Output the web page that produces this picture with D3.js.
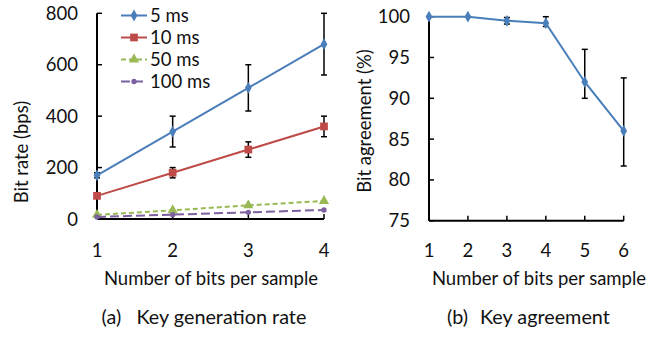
<!DOCTYPE html>
<html><head><meta charset="utf-8">
<script src="https://cdn.jsdelivr.net/npm/d3@7"></script>
<style>body{margin:0;background:#fff}svg{display:block}text{font-family:Lato,"Open Sans",sans-serif;fill:#111}</style>
</head><body><svg id="c" width="659" height="338"></svg>
<script>
// Left chart data
const bitsA = [1, 2, 3, 4];
const ms5 = [170, 340, 510, 680];
const ms5Lo = [160, 280, 420, 560];
const ms5Hi = [180, 400, 600, 800];
const ms10 = [90, 180, 270, 360];
const ms10Lo = [85, 160, 240, 320];
const ms10Hi = [95, 200, 300, 400];
const ms50 = [16, 34, 53, 70];
const ms100 = [8, 17, 26, 35];
const seriesNames = ["5 ms", "10 ms", "50 ms", "100 ms"];
const yTicksA = [0, 200, 400, 600, 800];
// Right chart data
const bitsB = [1, 2, 3, 4, 5, 6];
const agree = [100, 100, 99.5, 99.2, 92, 86];
const agreeLo = [100, 100, 99.1, 98.8, 90, 81.7];
const agreeHi = [100, 100, 99.9, 100, 96, 92.5];
const yTicksB = [75, 80, 85, 90, 95, 100];

const svg = d3.select("#c");
const colors = ["#4a7ebb", "#be4b48", "#98b954", "#7d60a0"];
const fs = 18.5;
const fsCap = 19.8;

function axes(g, x, y, xt, yt, x0, x1, y0, y1) {
  g.append("line").attr("x1", x0).attr("x2", x0).attr("y1", y0).attr("y2", y1).attr("stroke", "#000").attr("stroke-width", 2);
  g.append("line").attr("x1", x0).attr("x2", x1).attr("y1", y0).attr("y2", y0).attr("stroke", "#000").attr("stroke-width", 2);
  yt.forEach(v => {
    g.append("line").attr("x1", x0).attr("x2", x0 + 5).attr("y1", y(v)).attr("y2", y(v)).attr("stroke", "#000").attr("stroke-width", 1.5);
    g.append("text").attr("x", x0 - 19).attr("y", y(v) + 6.5).attr("text-anchor", "end").attr("font-size", fs).text(v);
  });
  xt.forEach(v => {
    g.append("line").attr("x1", x(v)).attr("x2", x(v)).attr("y1", y0).attr("y2", y0 - 5).attr("stroke", "#000").attr("stroke-width", 1.5);
    g.append("text").attr("x", x(v)).attr("y", 256.5).attr("text-anchor", "middle").attr("font-size", fs).text(v);
  });
}

function errbars(g, x, y, xs, lo, hi) {
  xs.forEach((v, i) => {
    if (lo[i] === hi[i]) return;
    g.append("line").attr("x1", x(v)).attr("x2", x(v)).attr("y1", y(lo[i])).attr("y2", y(hi[i])).attr("stroke", "#000").attr("stroke-width", 1.5);
    [lo[i], hi[i]].forEach(e => g.append("line").attr("x1", x(v) - 3).attr("x2", x(v) + 3).attr("y1", y(e)).attr("y2", y(e)).attr("stroke", "#000").attr("stroke-width", 1.5));
  });
}

// ---- Left chart
const xA = d3.scaleLinear().domain([1, 4]).range([97, 324]);
const yA = d3.scaleLinear().domain([0, 800]).range([219, 13.3]);
const gA = svg.append("g");
axes(gA, xA, yA, bitsA, yTicksA, 97, 324, 219, 13.3);

const symbols = [d3.symbolDiamond, d3.symbolSquare, d3.symbolTriangle, d3.symbolCircle];
const sizes = [40, 60, 45, 22];
const dashes = [null, null, "5,3", "9,4"];
const dataA = [ms5, ms10, ms50, ms100];
const line = d3.line();

errbars(gA, xA, yA, bitsA, ms5Lo, ms5Hi);
errbars(gA, xA, yA, bitsA, ms10Lo, ms10Hi);

dataA.forEach((s, k) => {
  gA.append("path").attr("d", line(bitsA.map((b, i) => [xA(b), yA(s[i])])))
    .attr("fill", "none").attr("stroke", colors[k]).attr("stroke-width", 2).attr("stroke-dasharray", dashes[k]);
  bitsA.forEach((b, i) => {
    gA.append("path").attr("d", d3.symbol(symbols[k], sizes[k])()).attr("transform", `translate(${xA(b)},${yA(s[i])})`).attr("fill", colors[k]);
  });
});
// legend
seriesNames.forEach((n, k) => {
  const ly = 15.5 + k * 22;
  gA.append("line").attr("x1", 121).attr("x2", 147).attr("y1", ly).attr("y2", ly).attr("stroke", colors[k]).attr("stroke-width", 2).attr("stroke-dasharray", dashes[k]);
  gA.append("path").attr("d", d3.symbol(symbols[k], sizes[k])()).attr("transform", `translate(134,${ly})`).attr("fill", colors[k]);
  gA.append("text").attr("x", 150).attr("y", ly + 6.5).attr("font-size", fs).text(n);
});
gA.append("text").attr("transform", "translate(28,152) rotate(-90)").attr("text-anchor", "middle").attr("font-size", fs).text("Bit rate (bps)");
gA.append("text").attr("x", 211).attr("y", 284.5).attr("text-anchor", "middle").attr("font-size", fs).text("Number of bits per sample");
const capA = gA.append("text").attr("y", 324).attr("font-size", fsCap);
capA.append("tspan").attr("x", 101.5).text("(a)");
capA.append("tspan").attr("x", 136.5).text("Key generation rate");

// ---- Right chart
const xB = d3.scaleLinear().domain([1, 6]).range([429, 623.7]);
const yB = d3.scaleLinear().domain([75, 100]).range([220.7, 16.7]);
const gB = svg.append("g");
axes(gB, xB, yB, bitsB, yTicksB, 429, 623.7, 220.7, 16.7);
errbars(gB, xB, yB, bitsB, agreeLo, agreeHi);
gB.append("path").attr("d", line(bitsB.map((b, i) => [xB(b), yB(agree[i])])))
  .attr("fill", "none").attr("stroke", colors[0]).attr("stroke-width", 2);
bitsB.forEach((b, i) => {
  gB.append("path").attr("d", d3.symbol(d3.symbolDiamond, 40)()).attr("transform", `translate(${xB(b)},${yB(agree[i])})`).attr("fill", colors[0]);
});
gB.append("text").attr("transform", "translate(371,121) rotate(-90)").attr("text-anchor", "middle").attr("font-size", fs).text("Bit agreement (%)");
gB.append("text").attr("x", 539).attr("y", 284.5).attr("text-anchor", "middle").attr("font-size", fs).text("Number of bits per sample");
const capB = gB.append("text").attr("y", 324).attr("font-size", fsCap);
capB.append("tspan").attr("x", 447).text("(b)");
capB.append("tspan").attr("x", 480).text("Key agreement");
</script></body></html>
